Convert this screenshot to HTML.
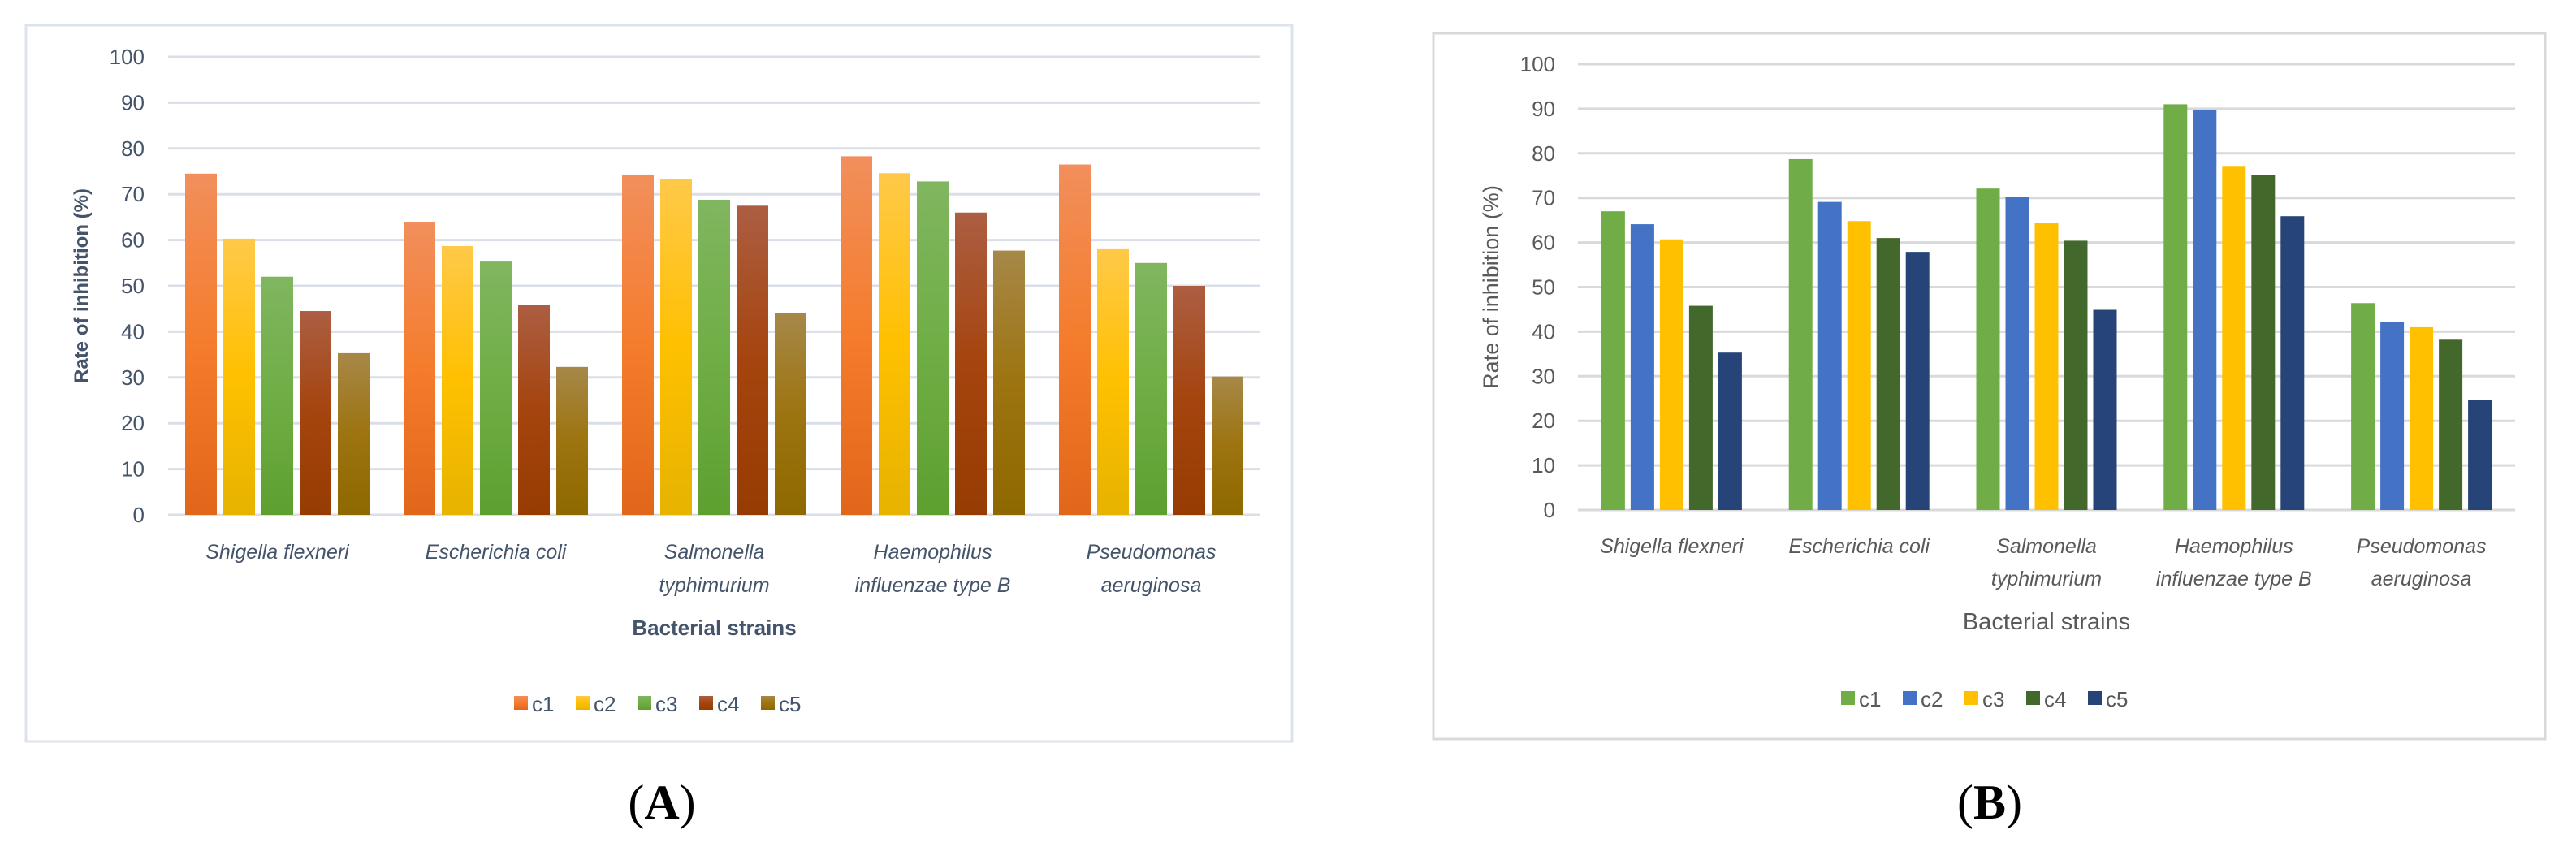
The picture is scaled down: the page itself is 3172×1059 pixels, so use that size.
<!DOCTYPE html>
<html><head><meta charset="utf-8"><style>
html,body{margin:0;padding:0;background:#fff;}
svg{display:block;}
</style></head><body>
<svg id="fig" width="3172" height="1059" xmlns="http://www.w3.org/2000/svg">
<defs>
<linearGradient id="gA0" x1="0" y1="0" x2="0" y2="1"><stop offset="0" stop-color="#f28f5c"/><stop offset="0.5" stop-color="#f47c2c"/><stop offset="1" stop-color="#e2661a"/></linearGradient>
<linearGradient id="gA1" x1="0" y1="0" x2="0" y2="1"><stop offset="0" stop-color="#ffc949"/><stop offset="0.5" stop-color="#ffc000"/><stop offset="1" stop-color="#e6b300"/></linearGradient>
<linearGradient id="gA2" x1="0" y1="0" x2="0" y2="1"><stop offset="0" stop-color="#80b660"/><stop offset="0.5" stop-color="#6fae45"/><stop offset="1" stop-color="#5e9f30"/></linearGradient>
<linearGradient id="gA3" x1="0" y1="0" x2="0" y2="1"><stop offset="0" stop-color="#ac5e42"/><stop offset="0.5" stop-color="#a5440e"/><stop offset="1" stop-color="#963c03"/></linearGradient>
<linearGradient id="gA4" x1="0" y1="0" x2="0" y2="1"><stop offset="0" stop-color="#a68848"/><stop offset="0.5" stop-color="#9d7410"/><stop offset="1" stop-color="#8e6800"/></linearGradient>
</defs>
</svg>
<script>
const categories = [["Shigella flexneri"],["Escherichia coli"],["Salmonella","typhimurium"],["Haemophilus","influenzae type B"],["Pseudomonas","aeruginosa"]];
const seriesNames = ["c1","c2","c3","c4","c5"];
const yTicks = [0,10,20,30,40,50,60,70,80,90,100];
const aC1 = [74.5, 64.0, 74.3, 78.3, 76.5];
const aC2 = [60.3, 58.7, 73.4, 74.6, 58.0];
const aC3 = [52.0, 55.3, 68.8, 72.8, 55.0];
const aC4 = [44.5, 45.8, 67.5, 66.0, 50.0];
const aC5 = [35.3, 32.3, 44.0, 57.7, 30.2];
const bC1 = [67.0, 78.7, 72.1, 91.0, 46.4];
const bC2 = [64.1, 69.1, 70.3, 89.8, 42.2];
const bC3 = [60.7, 64.8, 64.4, 77.0, 41.0];
const bC4 = [45.8, 61.0, 60.4, 75.2, 38.2];
const bC5 = [35.3, 57.9, 44.9, 65.9, 24.6];

const NS="http://www.w3.org/2000/svg";
const svg=document.getElementById('fig');
function mk(tag,attrs,parent){const e=document.createElementNS(NS,tag);for(const k in attrs)e.setAttribute(k,attrs[k]);(parent||svg).appendChild(e);return e;}

function panel(cfg){
  const g=mk('g',{});
  
  
  const fr=mk('rect',{x:cfg.box[0],y:cfg.box[1],width:cfg.box[2]-cfg.box[0],height:cfg.box[3]-cfg.box[1],fill:'#fff',stroke:cfg.frame,'stroke-width':3},g);
  
  
  const y=v=>cfg.y0-(v/100)*(cfg.y0-cfg.y100);
  yTicks.forEach(t=>{
    const l=mk('line',{x1:cfg.x0,x2:cfg.x1,y1:y(t),y2:y(t),stroke:cfg.grid,'stroke-width':3},g);
    
    
    const tx=mk('text',{x:cfg.tickX,y:y(t)+9,'text-anchor':'end','font-size':26,fill:cfg.tickColor,'font-family':'Liberation Sans, sans-serif'},g);
    tx.textContent=t;
    
    
  });
  const gw=(cfg.x1-cfg.x0)/categories.length;
  const n=cfg.series.length;
  categories.forEach((cat,i)=>{
    const cx=cfg.x0+gw*(i+0.5);
    const start=cx-((n-1)*cfg.step+cfg.bw)/2;
    cfg.series.forEach((arr,s)=>{
      const v=arr[i];
      const r=mk('rect',{x:start+s*cfg.step,y:y(v),width:cfg.bw,height:y(0)-y(v),fill:cfg.fills[s]},g);
      
      
    });
    cat.forEach((line,k)=>{
      const t=mk('text',{x:cx,y:cfg.catY+k*cfg.catDy,'text-anchor':'middle','font-size':25,'font-style':'italic',fill:cfg.tickColor,'font-family':'Liberation Sans, sans-serif'},g);
      t.textContent=line;
      
      
    });
  });
  const yt=mk('text',{x:0,y:0,transform:`translate(${cfg.ytX},${(cfg.y0+cfg.y100)/2}) rotate(-90)`,'text-anchor':'middle','font-size':cfg.ytSize,'font-weight':cfg.ytWeight,fill:cfg.titleColor,'font-family':'Liberation Sans, sans-serif'},g);
  yt.textContent='Rate of inhibition (%)';
  
  
  const xt=mk('text',{x:(cfg.x0+cfg.x1)/2,y:cfg.xtY,'text-anchor':'middle','font-size':cfg.xtSize,'font-weight':cfg.ytWeight,fill:cfg.titleColor,'font-family':'Liberation Sans, sans-serif'},g);
  xt.textContent='Bacterial strains';
  
  
  const itemW=76;
  const lx=cfg.legX-(itemW*n)/2;
  seriesNames.forEach((nm,s)=>{
    const sw=mk('rect',{x:lx+s*itemW,y:cfg.legY-19,width:17,height:17,fill:cfg.fills[s]},g);
    
    
    const t=mk('text',{x:lx+s*itemW+22,y:cfg.legY,'font-size':26,fill:cfg.tickColor,'font-family':'Liberation Sans, sans-serif'},g);
    t.textContent=nm;
    
    
  });
  const lab=mk('text',{x:cfg.labX,y:1008,'text-anchor':'middle','font-size':60,'font-family':'Liberation Serif, serif',fill:'#000'},g);
  lab.innerHTML='(<tspan font-weight="bold">'+cfg.label+'</tspan>)';
  
  
}

panel({name:'chart-a',box:[32,31,1591,913],frame:'#dde3ec',grid:'#dadfe7',x0:207,x1:1552,y0:634,y100:70,tickX:178,
  series:[aC1,aC2,aC3,aC4,aC5],fills:['url(#gA0)','url(#gA1)','url(#gA2)','url(#gA3)','url(#gA4)'],
  bw:39,step:47,tickColor:'#44546a',titleColor:'#44546a',catY:688,catDy:41,ytX:108,ytSize:24,ytWeight:'bold',xtY:782,xtSize:26,
  legX:823,legY:876,labX:815,label:'A'});
panel({name:'chart-b',box:[1765,41,3134,910],frame:'#d9d9d9',grid:'#d9d9d9',x0:1943,x1:3097,y0:628,y100:79,tickX:1915,
  series:[bC1,bC2,bC3,bC4,bC5],fills:['#70ad47','#4472c4','#ffc000','#43682b','#264478'],
  bw:29,step:36,tickColor:'#595959',titleColor:'#595959',catY:681,catDy:40,ytX:1845,ytSize:27,ytWeight:'normal',xtY:775,xtSize:29,
  legX:2457,legY:870,labX:2450,label:'B'});
</script>
</body></html>
